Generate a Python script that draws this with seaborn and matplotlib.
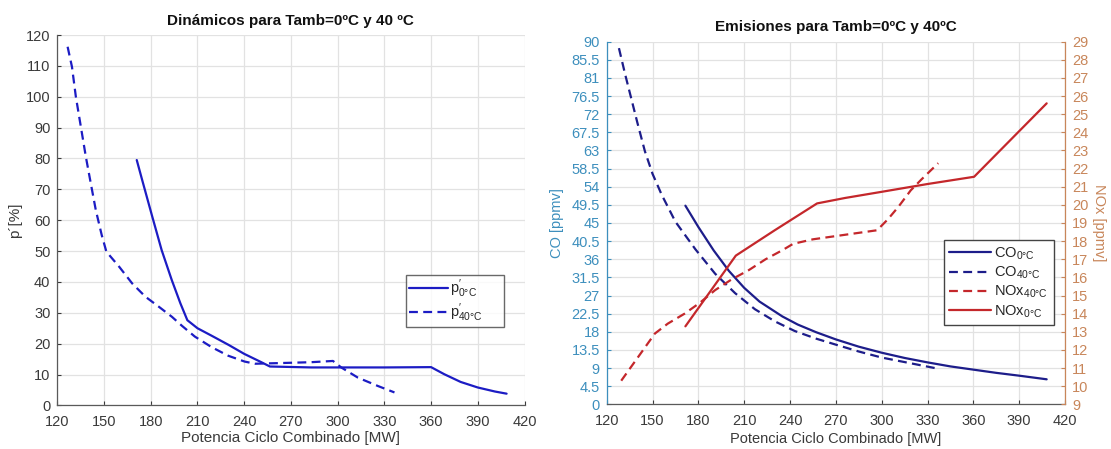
import matplotlib
matplotlib.use("Agg")
import numpy as np
import pandas as pd
import matplotlib.pyplot as plt
import seaborn as sns
from matplotlib.ticker import FixedLocator, FormatStrFormatter
from matplotlib.lines import Line2D

# ---- Dinámicos (p') ----
p0_mw = [171, 174.5, 181, 187, 193.5, 199, 203.5, 210, 219, 230, 240, 251, 256.5,
         283, 305, 330, 360, 368.5, 379, 390, 401, 408.5]
p0_val = [79.5, 73.0, 61.1, 50.3, 40.6, 33.1, 27.6, 25.0, 22.6, 19.6, 16.7, 14.0, 12.6,
          12.3, 12.3, 12.3, 12.4, 10.1, 7.6, 5.8, 4.5, 3.8]

p40_mw = [126.6, 129.4, 131.9, 135.1, 138.3, 141.5, 144.7, 148.5, 151.5, 159.6, 168.1,
          176.6, 185.1, 193.6, 200, 208.3, 219, 229.7, 240.3, 247, 262, 283, 297,
          302.3, 313, 325.8, 336.5]
p40_val = [116.2, 109.7, 100.0, 90.3, 80.6, 71.9, 63.3, 55.2, 49.8, 45.0, 39.5,
           35.2, 32.0, 28.7, 25.8, 22.3, 18.9, 16.1, 14.2, 13.5, 13.7, 14.0, 14.4,
           12.3, 9.0, 6.3, 4.2]

# ---- Emisiones (CO, NOx) ----
co0_mw = [171.5, 180, 190, 200, 210, 220, 235, 245, 257, 270, 285, 300, 315, 330,
          345, 360, 375, 390, 408]
co0_val = [49.3, 44.0, 38.2, 33.1, 28.9, 25.5, 21.8, 19.8, 17.9, 16.1, 14.3, 12.8,
           11.5, 10.4, 9.4, 8.6, 7.8, 7.1, 6.2]

co40_mw = [128, 132, 136, 140, 145, 150, 156, 165, 178, 191, 204, 217, 230, 243,
           257, 270, 285, 300, 320, 336]
co40_val = [88.4, 82.0, 76.0, 70.0, 62.8, 57.2, 52.0, 45.3, 38.5, 32.4, 27.6, 23.6,
            20.6, 18.2, 16.3, 14.8, 13.1, 11.6, 10.1, 8.9]

nox0_mw = [171.5, 204.5, 230, 257.7, 276, 300, 330, 360.5, 408]
nox0_val = [13.3, 17.2, 18.6, 20.08, 20.38, 20.72, 21.15, 21.55, 25.6]

nox40_mw = [129.5, 151.5, 160, 171, 181, 191, 202, 213, 224, 235, 242, 255, 276,
            297, 304, 311, 319, 326, 337]
nox40_val = [10.3, 12.9, 13.45, 14.0, 14.6, 15.3, 15.9, 16.4, 17.0, 17.5, 17.85,
             18.1, 18.35, 18.6, 19.2, 19.9, 20.8, 21.4, 22.3]

x_ticks = list(range(120, 421, 30))
p_ticks = list(range(0, 121, 10))
co_ticks = list(np.arange(0, 90.01, 4.5))
nox_ticks = list(range(9, 30))

sns.set_theme(style="whitegrid")
plt.rcParams["font.family"] = ["Liberation Sans", "DejaVu Sans"]
plt.rcParams["mathtext.fontset"] = "custom"
plt.rcParams["mathtext.rm"] = "Liberation Sans"
plt.rcParams["mathtext.it"] = "Liberation Sans:italic"

BLUE = "#1c1cc4"
NAVY = "#1d1d8a"
RED = "#c4272b"
CO_COL = "#3d8fbd"
NOX_COL = "#c8865a"
GRID = "#e2e2e2"
TXT = "#3a3a3a"
DASH = (4, 2.4)
LW = 1.6

fig = plt.figure(figsize=(11.11, 4.49), dpi=100)
fig.patch.set_facecolor("white")

# ---------- left panel ----------
ax1 = fig.add_axes([0.0516, 0.0971, 0.4205, 0.8249])
df_p0 = pd.DataFrame({"mw": p0_mw, "v": p0_val})
df_p40 = pd.DataFrame({"mw": p40_mw, "v": p40_val})
sns.lineplot(data=df_p0, x="mw", y="v", ax=ax1, color=BLUE, lw=LW, sort=False,
             estimator=None)
sns.lineplot(data=df_p40, x="mw", y="v", ax=ax1, color=BLUE, lw=LW, sort=False,
             estimator=None)
ax1.lines[1].set_dashes(DASH)

ax1.set_xlim(120, 420)
ax1.set_ylim(0, 120)
ax1.xaxis.set_major_locator(FixedLocator(x_ticks))
ax1.yaxis.set_major_locator(FixedLocator(p_ticks))
ax1.set_facecolor("white")
ax1.grid(True, color=GRID, lw=0.9)
for s in ("top", "right"):
    ax1.spines[s].set_visible(False)
for s in ("left", "bottom"):
    ax1.spines[s].set_color("#5a5a5a")
    ax1.spines[s].set_linewidth(0.9)
ax1.tick_params(direction="in", length=3, width=0.8, colors=TXT, labelsize=10.5,
                left=True, bottom=True)
ax1.tick_params(axis="x", pad=7)
ax1.tick_params(axis="y", pad=5)
ax1.set_xlabel("Potencia Ciclo Combinado [MW]", fontsize=11, color=TXT, labelpad=1)
ax1.set_ylabel("p´[%]", fontsize=11, color=TXT, labelpad=3)
ax1.set_title("Dinámicos para Tamb=0ºC y 40 ºC", fontsize=11, fontweight="bold",
              color="#111111", pad=7)
h1 = [Line2D([], [], color=BLUE, lw=LW),
      Line2D([], [], color=BLUE, lw=LW, dashes=DASH)]
leg1 = ax1.legend(h1, [r"$\mathregular{p^{\prime}_{0°C}}$",
                       r"$\mathregular{p^{\prime}_{40°C}}$"],
                  loc="lower left", bbox_to_anchor=(0.746, 0.2125, 0.211, 0.131),
                  mode="expand", fontsize=10.5, frameon=True, fancybox=False,
                  handlelength=2.7, handletextpad=0.1, borderpad=0.2,
                  labelspacing=0.05, borderaxespad=0)
leg1.get_frame().set_edgecolor("#444444")
leg1.get_frame().set_linewidth(1.0)

# ---------- right panel ----------
ax2 = fig.add_axes([0.5461, 0.0996, 0.4125, 0.8075])
ax3 = ax2.twinx()
sns.lineplot(x=co0_mw, y=co0_val, ax=ax2, color=NAVY, lw=LW, sort=False, estimator=None)
sns.lineplot(x=co40_mw, y=co40_val, ax=ax2, color=NAVY, lw=LW, sort=False,
             estimator=None)
ax2.lines[1].set_dashes(DASH)
sns.lineplot(x=nox40_mw, y=nox40_val, ax=ax3, color=RED, lw=LW, sort=False,
             estimator=None)
sns.lineplot(x=nox0_mw, y=nox0_val, ax=ax3, color=RED, lw=LW, sort=False,
             estimator=None)
ax3.lines[0].set_dashes(DASH)

ax2.set_xlim(120, 420)
ax2.set_ylim(0, 90)
ax3.set_ylim(9, 29)
ax2.xaxis.set_major_locator(FixedLocator(x_ticks))
ax2.yaxis.set_major_locator(FixedLocator(co_ticks))
ax2.yaxis.set_major_formatter(FormatStrFormatter("%g"))
ax3.yaxis.set_major_locator(FixedLocator(nox_ticks))
ax2.set_facecolor("white")
ax2.grid(True, color=GRID, lw=0.9)
ax3.grid(False)
for s in ("top", "right"):
    ax2.spines[s].set_visible(False)
for s in ("top", "left", "bottom"):
    ax3.spines[s].set_visible(False)
ax2.spines["left"].set_color(CO_COL)
ax2.spines["bottom"].set_color("#5a5a5a")
ax3.spines["right"].set_color(NOX_COL)
for sp in (ax2.spines["left"], ax2.spines["bottom"], ax3.spines["right"]):
    sp.set_linewidth(0.9)
ax2.tick_params(axis="x", direction="in", length=3, width=0.8, colors=TXT,
                labelsize=10.5, pad=7, bottom=True)
ax2.tick_params(axis="y", direction="in", length=3, width=0.8, colors=CO_COL,
                labelsize=10.5, pad=5, left=True)
ax3.tick_params(axis="y", direction="in", length=3, width=0.8, colors=NOX_COL,
                labelsize=10.5, pad=5, right=True)
ax2.set_xlabel("Potencia Ciclo Combinado [MW]", fontsize=10.5, color=TXT, labelpad=3)
ax2.set_ylabel("CO [ppmv]", fontsize=10.5, color=CO_COL, labelpad=5)
ax3.set_ylabel("NOx [ppmv]", fontsize=10.5, color=NOX_COL, rotation=270, labelpad=13)
ax2.set_title("Emisiones para Tamb=0ºC y 40ºC", fontsize=11, fontweight="bold",
              color="#111111", pad=8)

h2 = [Line2D([], [], color=NAVY, lw=LW),
      Line2D([], [], color=NAVY, lw=LW, dashes=DASH),
      Line2D([], [], color=RED, lw=LW, dashes=DASH),
      Line2D([], [], color=RED, lw=LW)]
lab2 = [r"$\mathregular{CO_{0°C}}$", r"$\mathregular{CO_{40°C}}$",
        r"$\mathregular{NOx_{40°C}}$", r"$\mathregular{NOx_{0°C}}$"]
leg2 = ax3.legend(h2, lab2, loc="lower left",
                  bbox_to_anchor=(0.736, 0.219, 0.239, 0.242), mode="expand",
                  fontsize=10.5, frameon=True, fancybox=False, handlelength=2.9,
                  handletextpad=0.15, borderpad=0.35, labelspacing=0.2,
                  borderaxespad=0)
leg2.get_frame().set_edgecolor("#444444")
leg2.get_frame().set_linewidth(1.0)
leg2.get_frame().set_facecolor("white")
leg2.get_frame().set_alpha(1)

fig.savefig("out.png", dpi=100, facecolor="white")
